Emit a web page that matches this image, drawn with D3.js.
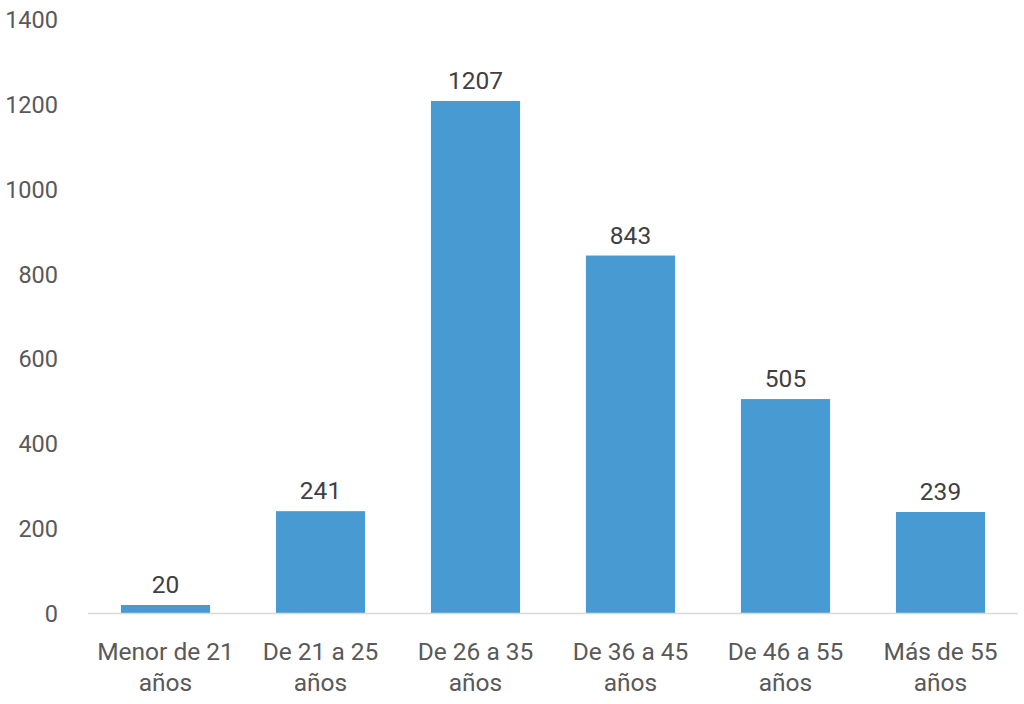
<!DOCTYPE html>
<html><head><meta charset="utf-8">
<script src="https://cdn.jsdelivr.net/npm/d3@7"></script>
<style>body{margin:0;background:#fff;}svg{display:block;}text{font-family:Roboto, "Noto Sans", sans-serif;}</style>
</head><body>
<svg id="c" width="1024" height="704"></svg>
<script>
const categories = [["Menor de 21","años"],["De 21 a 25","años"],["De 26 a 35","años"],["De 36 a 45","años"],["De 46 a 55","años"],["Más de 55","años"]];
const values = [20, 241, 1207, 843, 505, 239];
const yTicks = [0, 200, 400, 600, 800, 1000, 1200, 1400];

(function () {
const svg = d3.select("#c");
const mLeft = 88, mRight = 1018, mTop = 19, mBottom = 613.5;
const x = d3.scaleBand().domain(d3.range(categories.length)).range([mLeft, mRight]).paddingInner(0.425).paddingOuter(0.2125);
const y = d3.scaleLinear().domain([0, 1400]).range([mBottom, mTop]);

// y axis labels
const yAxis = svg.append("g").attr("transform", `translate(${mLeft},0)`)
  .call(d3.axisLeft(y).tickValues(yTicks).tickSize(0).tickPadding(30).tickFormat(d3.format("d")));
yAxis.select(".domain").remove();
yAxis.selectAll("text").attr("fill", "#595959").style("font-size", "23.5px").style("font-family", "Roboto").attr("dy", "0.35em");

// bars
svg.append("g").selectAll("rect").data(values).join("rect")
  .attr("x", (d, i) => x(i)).attr("width", x.bandwidth())
  .attr("y", d => y(d)).attr("height", d => y(0) - y(d))
  .attr("fill", "#479BD2");

// baseline
svg.append("line").attr("x1", mLeft).attr("x2", mRight).attr("y1", y(0)).attr("y2", y(0))
  .attr("stroke", "#d9d9d9").attr("stroke-width", 1.5);

// data labels
svg.append("g").selectAll("text").data(values).join("text")
  .attr("x", (d, i) => x(i) + x.bandwidth() / 2).attr("y", d => y(d) - 12)
  .attr("text-anchor", "middle").attr("fill", "#404040").style("font-size", "24.5px")
  .text(d => d);

// category labels
const cg = svg.append("g").selectAll("text").data(categories).join("text")
  .attr("x", (d, i) => x(i) + x.bandwidth() / 2).attr("y", 660)
  .attr("text-anchor", "middle").attr("fill", "#595959").style("font-size", "24.5px");
cg.selectAll("tspan").data(d => d).join("tspan")
  .attr("x", function() { return d3.select(this.parentNode).attr("x"); })
  .attr("dy", (d, i) => i === 0 ? 0 : 31).text(d => d);
})();
</script>
</body></html>
